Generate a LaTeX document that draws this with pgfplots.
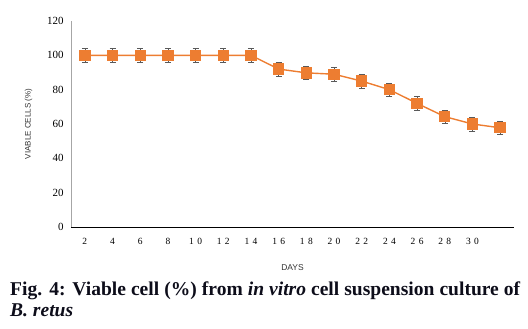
\documentclass[border=0pt]{standalone}
\usepackage{pgfplots}
\pgfplotsset{compat=1.18}
\usepackage{fontspec}
\setmainfont{Liberation Serif}
\newfontfamily\labfont{Liberation Sans}
\newfontfamily\tickfont[LetterSpace=35]{Liberation Serif}
\definecolor{ora}{HTML}{ED7D31}
\definecolor{capc}{HTML}{0D0D1A}
\begin{document}
\begin{tikzpicture}[x=1bp,y=1bp]
\useasboundingbox (0,0) rectangle (528,-328);
\begin{axis}[
  at={(71bp,-227bp)}, anchor=south west,
  scale only axis, width=443bp, height=206bp,
  xmin=-0.5, xmax=15.5, ymin=0, ymax=120,
  axis x line*=bottom, axis y line*=left,
  x axis line style={black, line width=0.8pt, -},
  y axis line style={gray!70, line width=0.5pt, -},
  xtick={0,...,14},
  xticklabels={2,4,6,8,10,12,14,16,18,20,22,24,26,28,30},
  ytick={0,20,...,120},
  major tick length=0pt,
  x tick label style={font=\tickfont\fontsize{9.5}{10}\selectfont, yshift=-8bp},
  y tick label style={font=\fontsize{11}{12}\selectfont, xshift=-4bp},
  /pgf/number format/assume math mode=true,
  xlabel={DAYS}, ylabel={VIABLE CELLS (\%)},
  xlabel style={font=\labfont\fontsize{8.5}{10}\selectfont, color=black!80, yshift=-13bp},
  ylabel style={font=\labfont\fontsize{8}{9}\selectfont, color=black!80, yshift=8bp},
  clip=false,
]
\addplot[color=ora, line width=1.4pt, mark=square*, mark size=5bp,
  mark options={fill=ora, draw=ora},
  error bars/.cd, y dir=both, y explicit,
  error bar style={color=black!65, line width=0.5pt},
  error mark options={rotate=90, mark size=3bp, color=black!65, line width=0.5pt}]
coordinates {
(0,100) +- (0,4)
(1,100) +- (0,4)
(2,100) +- (0,4)
(3,100) +- (0,4)
(4,100) +- (0,4)
(5,100) +- (0,4)
(6,100) +- (0,4)
(7,92) +- (0,4)
(8,89.8) +- (0,4)
(9,89) +- (0,4)
(10,85) +- (0,4)
(11,80) +- (0,4)
(12,72) +- (0,4)
(13,64.3) +- (0,4)
(14,60) +- (0,4)
(15,57.8) +- (0,4)
};
\end{axis}
\node[anchor=north west, inner sep=0pt, text width=510bp, align=justify, color=capc,
  font=\bfseries\fontsize{19.6}{21}\selectfont] at (10,-282)
  {Fig. 4: Viable cell (\%) from \textit{in vitro} cell suspension culture of\linebreak \textit{B. retus}};
\end{tikzpicture}
\end{document}
